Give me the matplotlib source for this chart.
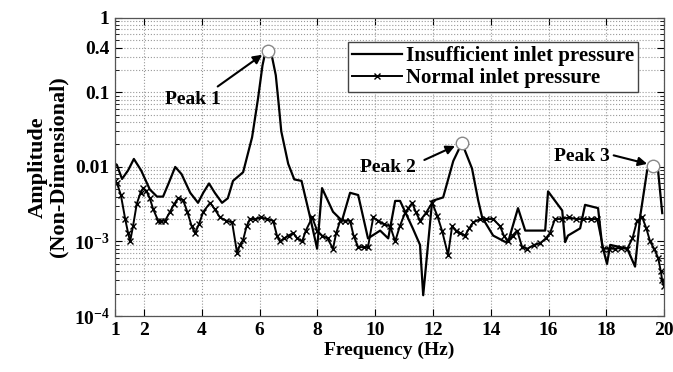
import matplotlib
matplotlib.use("Agg")
import matplotlib.pyplot as plt
import numpy as np

# ---- data ----
freq_insuff = [1.0, 1.06, 1.24, 1.45, 1.65, 1.9, 2.2, 2.45, 2.66, 2.85, 3.08, 3.3, 3.6, 3.87,
               4.05, 4.25, 4.45, 4.70, 4.9, 5.08, 5.43, 5.74, 5.95, 6.1, 6.2, 6.29, 6.43, 6.56,
               6.66, 6.75, 6.99, 7.2, 7.45, 7.75, 7.99, 8.16, 8.54, 8.85, 9.13, 9.41, 9.75, 10.17,
               10.45, 10.69, 10.86, 11.3, 11.55, 11.66, 11.97, 12.35, 12.7, 13.0, 13.35, 13.56,
               13.70, 14.08, 14.49, 14.6, 14.94, 15.19, 15.88, 15.98, 16.47, 16.57, 16.67,
               17.09, 17.26, 17.71, 17.85, 18.02, 18.13, 18.72, 18.99, 19.17, 19.41, 19.62,
               19.78, 19.93]
amp_insuff = [0.011, 0.0107, 0.0069, 0.009, 0.0128, 0.009, 0.005, 0.004, 0.004, 0.006, 0.0100,
              0.008, 0.0045, 0.0033, 0.0045, 0.006, 0.0045, 0.0033, 0.0038, 0.0065, 0.0085,
              0.025, 0.085, 0.23, 0.35, 0.36, 0.30, 0.17, 0.07, 0.03, 0.011, 0.0068, 0.0065,
              0.0021, 0.0008, 0.0052, 0.0025, 0.0019, 0.0045, 0.0042, 0.0011, 0.0014, 0.0011,
              0.0035, 0.0035, 0.0015, 0.0009, 0.00019, 0.0035, 0.0039, 0.012, 0.021, 0.0095,
              0.0036, 0.0021, 0.0012, 0.00099, 0.00099, 0.0028, 0.0014, 0.0014, 0.0047, 0.0026,
              0.00098, 0.0012, 0.0015, 0.0031, 0.0028, 0.0009, 0.0005, 0.0009, 0.0008, 0.00046,
              0.0022, 0.0091, 0.0102, 0.0095, 0.0024]

freq_normal = [1.0, 1.07, 1.2, 1.35, 1.45, 1.52, 1.62, 1.75, 1.88, 1.97, 2.08, 2.2, 2.32, 2.49,
               2.6, 2.73, 2.9, 3.05, 3.18, 3.35, 3.5, 3.65, 3.77, 3.9, 4.05, 4.29, 4.45, 4.63,
               4.85, 5.05, 5.22, 5.32, 5.43, 5.55, 5.67, 5.85, 6.05, 6.25, 6.47, 6.6, 6.71, 6.85,
               7.0, 7.16, 7.3, 7.47, 7.6, 7.82, 7.99, 8.16, 8.35, 8.54, 8.65, 8.79, 8.95, 9.13,
               9.25, 9.41, 9.6, 9.75, 9.93, 10.1, 10.3, 10.52, 10.69, 10.85, 11.03, 11.15, 11.28,
               11.4, 11.55, 11.75, 11.97, 12.15, 12.31, 12.52, 12.66, 12.8, 12.94, 13.11, 13.25,
               13.39, 13.63, 13.85, 14.08, 14.32, 14.45, 14.60, 14.75, 14.91, 15.08, 15.26, 15.5,
               15.71, 15.9, 16.05, 16.22, 16.45, 16.7, 16.95, 17.2, 17.45, 17.68, 17.89, 18.1,
               18.3, 18.5, 18.72, 18.9, 19.06, 19.24, 19.38, 19.51, 19.65, 19.79, 19.88, 19.93,
               20.0]
amp_normal = [0.0065, 0.006, 0.0042, 0.002, 0.0013, 0.001, 0.0016, 0.0032, 0.0045, 0.0052, 0.0048,
              0.0038, 0.0027, 0.0019, 0.0019, 0.0019, 0.0025, 0.0032, 0.0038, 0.0036, 0.0025,
              0.0016, 0.0013, 0.0017, 0.0025, 0.0033, 0.0027, 0.0021, 0.0019, 0.0018, 0.0007,
              0.0009, 0.00105, 0.0016, 0.002, 0.002, 0.0021, 0.0020, 0.0019, 0.0012, 0.001,
              0.0011, 0.0012, 0.0013, 0.0011, 0.001, 0.0014, 0.0021, 0.0014, 0.0012, 0.0011,
              0.0008, 0.0013, 0.0019, 0.0019, 0.0019, 0.0012, 0.00084, 0.00084, 0.00084, 0.0021,
              0.0019, 0.0017, 0.0016, 0.001, 0.0016, 0.0024, 0.0028, 0.0033, 0.0025, 0.0019,
              0.0024, 0.0033, 0.0022, 0.0014, 0.00066, 0.0016, 0.0014, 0.0013, 0.0012, 0.0015,
              0.0018, 0.002, 0.002, 0.002, 0.0016, 0.0012, 0.001, 0.0012, 0.0014, 0.00085,
              0.0008, 0.0009, 0.00095, 0.0011, 0.0013, 0.002, 0.002, 0.0021, 0.002, 0.002, 0.002,
              0.002, 0.0008, 0.0008, 0.0008, 0.00082, 0.0008, 0.0011, 0.0019, 0.0021, 0.0015,
              0.001, 0.0008, 0.0006, 0.0004, 0.0003, 0.00025]

peak_freq = [6.29, 13.0, 19.62]
peak_amp = [0.36, 0.021, 0.0102]
peak_labels = ["Peak 1", "Peak 2", "Peak 3"]
peak_text_pos = [(3.70, 0.08), (10.45, 0.0098), (17.15, 0.0136)]
peak_arrow_start = [(4.55, 0.12), (11.7, 0.0124), (18.25, 0.0143)]
peak_arrow_tip = [(6.09, 0.32), (12.76, 0.0191), (19.41, 0.011)]

xticks = [1, 2, 4, 6, 8, 10, 12, 14, 16, 18, 20]
yticks = [1e-4, 1e-3, 0.01, 0.1, 0.4, 1]
ytick_labels = [r"$\mathbf{10^{-4}}$", r"$\mathbf{10^{-3}}$", "0.01", "0.1", "0.4", "1"]

# ---- style ----
plt.rcParams["font.family"] = ["Liberation Serif", "DejaVu Serif"]
plt.rcParams["font.weight"] = "bold"
plt.rcParams["mathtext.fontset"] = "custom"
plt.rcParams["mathtext.rm"] = "Liberation Serif:bold"
plt.rcParams["mathtext.bf"] = "Liberation Serif:bold"

fig = plt.figure(figsize=(6.73, 3.72), dpi=100)
ax = fig.add_axes([0.171, 0.1505, 0.816, 0.8015])

ax.plot(freq_insuff, amp_insuff, color="black", lw=1.6, label="Insufficient inlet pressure")
ax.plot(freq_normal, amp_normal, color="black", lw=1.4, marker="x", ms=4.5, mew=1.0,
        label="Normal inlet pressure")

ax.plot(peak_freq, peak_amp, ls="none", marker="o", ms=9, mfc="white", mec="#888888", mew=1.0)

for lab, tp, st, tip in zip(peak_labels, peak_text_pos, peak_arrow_start, peak_arrow_tip):
    ax.text(tp[0], tp[1], lab, ha="center", va="center", fontsize=14, fontweight="bold")
    ax.annotate("", xy=tip, xytext=st,
                arrowprops=dict(arrowstyle="-|>", color="black", lw=1.5,
                                mutation_scale=13, shrinkA=0, shrinkB=0))

ax.set_yscale("log")
ax.set_xlim(1, 20)
ax.set_ylim(1e-4, 1)
ax.set_xticks(xticks)
ax.set_xticklabels([str(t) for t in xticks])
ax.set_yticks(yticks)
ax.set_yticklabels(ytick_labels)
ax.tick_params(axis="both", which="both", direction="in", top=True, right=True,
               labelsize=14)
ax.tick_params(axis="both", which="major", length=5, width=0.8, pad=4)
ax.tick_params(axis="y", which="minor", length=3, width=0.6)
ax.tick_params(axis="x", which="minor", bottom=False, top=False)
for lbl in ax.get_xticklabels() + ax.get_yticklabels():
    lbl.set_fontweight("bold")

ax.grid(True, which="major", axis="x", ls=":", color="#999999", lw=0.8)
ax.grid(True, which="both", axis="y", ls=":", color="#999999", lw=0.8)

for sp in ax.spines.values():
    sp.set_color("#555555")
    sp.set_linewidth(0.9)

ax.set_xlabel("Frequency (Hz)", fontsize=14, fontweight="bold", labelpad=2)
ax.set_ylabel("Amplitude\n(Non-Dimensional)", fontsize=16, fontweight="bold", labelpad=4,
              linespacing=1.05)

leg = ax.legend(loc="upper right", bbox_to_anchor=(0.953, 0.919), fontsize=15,
                frameon=True, fancybox=False, edgecolor="#444444", framealpha=1,
                handlelength=2.4, handletextpad=0.2, borderpad=0.2, labelspacing=0.1,
                borderaxespad=0)
leg.get_frame().set_linewidth(1.0)
for t in leg.get_texts():
    t.set_fontweight("bold")

fig.savefig("out.png", dpi=100)
